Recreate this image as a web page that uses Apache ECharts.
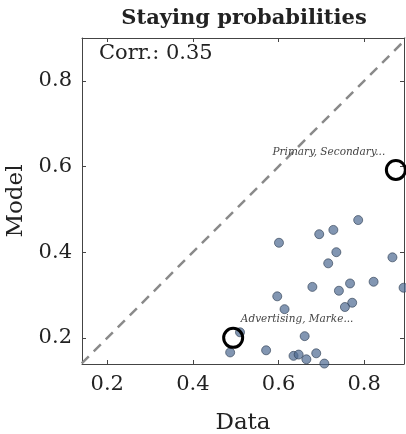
<!DOCTYPE html>
<html><head><meta charset="utf-8">
<script src="https://cdn.jsdelivr.net/npm/echarts@6/dist/echarts.min.js"></script>
<style>html,body{margin:0;padding:0;background:#fff}#c{width:406px;height:434px}</style>
</head><body><div id="c"></div>
<script>
const dataX = [0.786,0.695,0.728,0.601,0.735,0.866,0.716,0.822,0.767,0.679,0.741,0.892,0.597,0.772,0.755,0.614,0.510,0.661,0.487,0.571,0.635,0.647,0.688,0.665,0.707];
const dataY = [0.475,0.442,0.452,0.422,0.400,0.388,0.374,0.331,0.327,0.319,0.310,0.317,0.297,0.282,0.272,0.267,0.213,0.204,0.166,0.171,0.158,0.161,0.164,0.150,0.140];
const highlightNames = ['Primary, Secondary...', 'Advertising, Marke...'];
const highlightX = [0.874, 0.494];
const highlightY = [0.592, 0.200];
const tickValues = [0.2, 0.4, 0.6, 0.8];
const diagonal = [[0, 0], [1, 1]];
const titleText = 'Staying probabilities';
const corrText = 'Corr.: 0.35';
const axisMin = 0.141, xMax = 0.893, yMin = 0.139, yMax = 0.900;

const SERIF = '"DejaVu Serif", serif';
const chart = echarts.init(document.getElementById('c'), null, {renderer: 'canvas'});
const axisCommon = (isX, main) => ({
  type: 'value',
  min: isX ? axisMin : yMin,
  max: isX ? xMax : yMax,
  position: isX ? (main ? 'bottom' : 'top') : (main ? 'left' : 'right'),
  axisLine: {show: true, onZero: false, lineStyle: {color: '#444', width: 1}},
  axisTick: {show: true, inside: true, length: 4, customValues: tickValues, lineStyle: {color: '#444'}},
  axisLabel: {show: main, customValues: tickValues, fontFamily: SERIF, fontSize: 21, color: '#222', margin: 10,
    formatter: v => v.toFixed(1)},
  splitLine: {show: false},
  name: main ? (isX ? 'Data' : 'Model') : '',
  nameLocation: 'middle',
  nameGap: isX ? 48 : 54,
  nameTextStyle: {fontFamily: SERIF, fontSize: 23, color: '#222'}
});
const pts = dataX.map((x, i) => [x, dataY[i]]);
const hl = highlightX.map((x, i) => ({
  value: [x, highlightY[i]], name: highlightNames[i],
  label: {offset: i === 0 ? [-67, -18] : [64, -19]}
}));
chart.setOption({
  animation: false,
  grid: {left: 82, top: 38, right: 2, bottom: 70, containLabel: false, outerBoundsMode: 'none'},
  xAxis: [axisCommon(true, true), axisCommon(true, false)],
  yAxis: [axisCommon(false, true), axisCommon(false, false)],
  graphic: [
    {type: 'text', x: 244, y: 19, style: {text: titleText, font: 'bold 21px ' + SERIF, fill: '#222', textAlign: 'center', textVerticalAlign: 'middle'}},
    {type: 'text', x: 99, y: 54, style: {text: corrText, font: '21px ' + SERIF, fill: '#222', textAlign: 'left', textVerticalAlign: 'middle'}}
  ],
  series: [
    {type: 'line', data: diagonal, clip: true, symbol: 'none', z: 1,
      lineStyle: {color: '#8a8a8a', width: 2.5, type: [10, 7]}},
    {type: 'scatter', data: pts, symbolSize: 9, z: 2,
      itemStyle: {color: 'rgba(77,106,146,0.88)', borderColor: '#2e3d52', borderWidth: 0.8}},
    {type: 'scatter', data: hl, symbolSize: 19, z: 3,
      itemStyle: {color: 'rgba(0,0,0,0)', borderColor: '#000', borderWidth: 3, opacity: 1},
      label: {show: true, position: 'inside', formatter: p => p.name,
        fontFamily: SERIF, fontStyle: 'italic', fontSize: 10.5, color: '#444'}}
  ]
});
</script></body></html>
